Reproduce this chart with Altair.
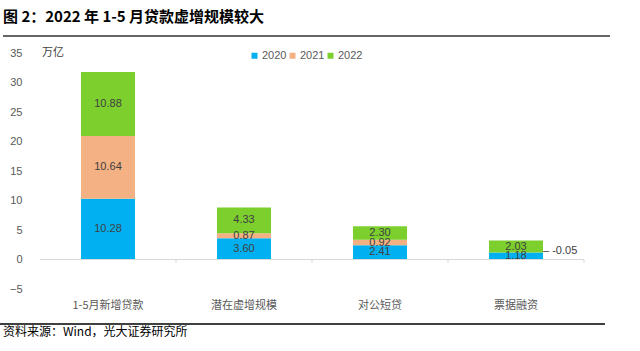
import altair as alt
import pandas as pd

categories = ["1-5月新增贷款", "潜在虚增规模", "对公短贷", "票据融资"]
years = ["2020", "2021", "2022"]
v2020 = [10.28, 3.60, 2.41, 1.18]
v2021 = [10.64, 0.87, 0.92, -0.05]
v2022 = [10.88, 4.33, 2.30, 2.03]
y_ticks = [-5, 0, 5, 10, 15, 20, 25, 30, 35]
colors = ["#00B0F0", "#F4B183", "#7DCF2E"]

rows = []
for i, c in enumerate(categories):
    pos = 0.0
    for j, (yr, vals) in enumerate(zip(years, [v2020, v2021, v2022])):
        v = vals[i]
        if v >= 0:
            mid = pos + v / 2
            pos += v
            inside = True
        else:
            mid = v / 2
            inside = False
        rows.append({"cat": c, "year": yr, "order": j, "value": v,
                     "mid": mid, "label": f"{v:.2f}", "inside": inside})
df = pd.DataFrame(rows)
df_in = df[df["inside"]]
df_out = df[~df["inside"]].copy()
# outside label sits beside the top of the preceding (blue) segment
df_out["ypos"] = [v2020[categories.index(c)] + 0.25 for c in df_out["cat"]]
df_out["label2"] = "‒  " + df_out["label"]

cjk = "Noto Sans CJK SC"
num = "Liberation Sans"
gray = "#595959"

x_axis = alt.Axis(labelFont=cjk, labelFontSize=11, labelColor=gray,
                  labelAngle=0, domain=False, ticks=False, labelPadding=10)
x_scale = alt.Scale(paddingInner=0, paddingOuter=0)
y_axis = alt.Axis(values=y_ticks, grid=False, domain=False, ticks=False,
                  labelFont=num, labelFontSize=11, labelColor=gray,
                  labelPadding=18, labelOverlap=False)
y_scale = alt.Scale(domain=[-5, 35], nice=False, zero=False)


def xc(**kw):
    return alt.X("cat:N", sort=categories, title=None, scale=x_scale, axis=x_axis, **kw)


def yf(field, **kw):
    return alt.Y(field, scale=y_scale, title=None, axis=y_axis, **kw)


bars = alt.Chart(df).mark_bar(size=54).encode(
    x=xc(),
    y=yf("value:Q", stack="zero"),
    color=alt.Color("year:N", sort=years,
                    scale=alt.Scale(domain=years, range=colors),
                    legend=alt.Legend(title=None, orient="none", direction="horizontal",
                                      legendX=209, legendY=-3, symbolType="square",
                                      symbolSize=36, labelFont=num, labelFontSize=11,
                                      labelColor=gray, columnPadding=0,
                                      labelOffset=2, symbolOffset=0)),
    order=alt.Order("order:Q"),
)

zero_line = alt.Chart(pd.DataFrame({"z": [0]})).mark_rule(
    color="#D9D9D9", strokeWidth=1).encode(
    y=yf("z:Q"), x=alt.value(0), x2=alt.value(544))

tick_df = pd.DataFrame({"cat": categories, "t0": [0] * 4, "t1": [-0.55] * 4})
ticks = alt.Chart(tick_df).mark_rule(color="#D9D9D9", strokeWidth=1).encode(
    x=xc(bandPosition=1),
    y=yf("t0:Q"), y2="t1:Q")

labels = alt.Chart(df_in).mark_text(font=num, fontSize=11, color="#404040").encode(
    x=xc(), y=yf("mid:Q"), text="label:N")

out_labels = alt.Chart(df_out).mark_text(font=num, fontSize=11, color="#404040",
                                         align="left", dx=27).encode(
    x=xc(), y=yf("ypos:Q"), text="label2:N")

unit = alt.Chart(pd.DataFrame({"t": ["万亿"]})).mark_text(
    font=cjk, fontSize=11, color="#404040", align="left", baseline="middle").encode(
    x=alt.value(2), y=alt.value(0), text="t:N")

title = alt.Chart(pd.DataFrame({"t": ["图 2：2022 年 1-5 月贷款虚增规模较大"]})).mark_text(
    font=cjk, fontSize=15, fontWeight="bold", color="#000000",
    align="left", baseline="middle").encode(
    x=alt.value(-37), y=alt.value(-36), text="t:N")

top_line = alt.Chart(pd.DataFrame({"a": [0]})).mark_rule(
    color="#333333", strokeWidth=1.5).encode(
    x=alt.value(-37), x2=alt.value(570), y=alt.value(-17))

bottom_line = alt.Chart(pd.DataFrame({"a": [0]})).mark_rule(
    color="#000000", strokeWidth=1.5).encode(
    x=alt.value(-40), x2=alt.value(565), y=alt.value(271))

source = alt.Chart(pd.DataFrame({"t": ["资料来源：Wind，光大证券研究所"]})).mark_text(
    font=cjk, fontSize=12, color="#000000", align="left", baseline="middle").encode(
    x=alt.value(-37), y=alt.value(279), text="t:N")

chart = alt.layer(bars, zero_line, ticks, labels, out_labels, unit, title,
                  top_line, bottom_line, source).properties(
    width=544, height=236,
    autosize=alt.AutoSizeParams(type="none"),
    padding={"left": 40, "top": 53, "right": 56, "bottom": 62},
    background="white",
).configure_view(stroke=None)

chart.save("out.html", embed_options={"renderer": "svg", "actions": False})
